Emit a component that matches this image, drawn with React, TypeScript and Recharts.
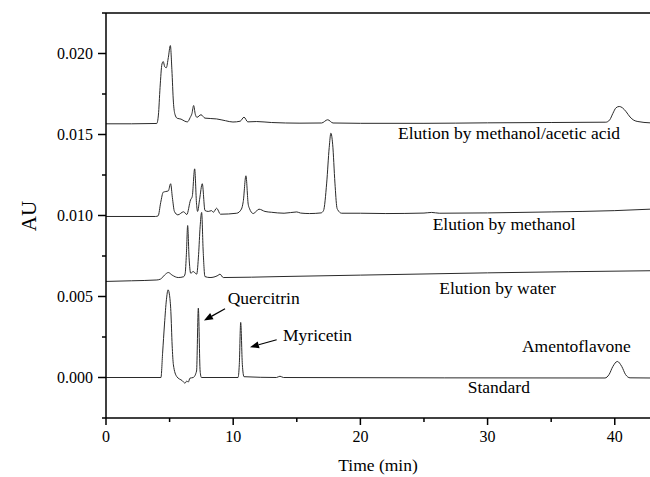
import React from 'react';
import { LineChart, Line, XAxis, YAxis, ReferenceLine, ReferenceDot } from 'recharts';

type Pt = [number, number];

const FONT = "'Liberation Serif', 'Times New Roman', serif";

// axis ticks
const timeTicks = [0, 5, 10, 15, 20, 25, 30, 35, 40];
const timeLabels = [0, 10, 20, 30, 40];
const auTicks = [-0.0025, 0, 0.0025, 0.005, 0.0075, 0.01, 0.0125, 0.015, 0.0175, 0.02, 0.0225];
const auLabels = [0, 0.005, 0.01, 0.015, 0.02];

// chromatograms: [time (min), absorbance (AU)]
const acidTrace: Pt[] = [
  [0, 0.01566], [2.0, 0.01566], [3.99, 0.01568], [4.12, 0.0162], [4.25, 0.0179], [4.4, 0.01935],
  [4.5, 0.0195], [4.62, 0.01918], [4.74, 0.01912], [4.9, 0.01975], [5.06, 0.02049], [5.18, 0.019],
  [5.3, 0.017], [5.42, 0.01625], [5.6, 0.016], [5.9, 0.01595], [6.2, 0.01582], [6.4, 0.01578],
  [6.62, 0.01605], [6.76, 0.0163], [6.89, 0.01679], [7.02, 0.01625], [7.15, 0.01606], [7.47, 0.01622],
  [7.78, 0.01601], [8.7, 0.01596], [9.4, 0.01585], [9.98, 0.01577], [10.55, 0.01582], [10.85, 0.01607],
  [11.15, 0.01578], [11.85, 0.0158], [13.0, 0.01574], [15.25, 0.0157], [16.95, 0.01571], [17.43, 0.01591],
  [17.85, 0.01571], [20.0, 0.01569], [25.0, 0.01569], [30.0, 0.01572], [35.0, 0.01574], [39.3, 0.01576],
  [39.6, 0.0159], [39.85, 0.0163], [40.1, 0.01665], [40.35, 0.01673], [40.6, 0.01665], [40.9, 0.0164],
  [41.2, 0.01608], [41.5, 0.01588], [41.82, 0.0158], [42.77, 0.01572],
];

const methanolTrace: Pt[] = [
  [0, 0.00994], [3.9, 0.00994], [4.1, 0.00998], [4.3, 0.0108], [4.5, 0.01144], [4.7, 0.01148],
  [4.9, 0.01152], [5.08, 0.01196], [5.22, 0.0111], [5.38, 0.01025], [5.65, 0.01004], [6.1, 0.01023],
  [6.35, 0.01006], [6.65, 0.01097], [6.78, 0.01117], [6.97, 0.01288], [7.12, 0.0107], [7.2, 0.01025],
  [7.36, 0.011], [7.57, 0.01196], [7.78, 0.01031], [8.04, 0.01025], [8.3, 0.0103], [8.44, 0.0102],
  [8.7, 0.01045], [9.0, 0.01008], [10.28, 0.01014], [10.65, 0.0104], [10.79, 0.01086], [11.0, 0.01245],
  [11.18, 0.0107], [11.27, 0.01045], [11.58, 0.01012], [12.03, 0.01039], [12.5, 0.01025], [13.0, 0.0102],
  [14.0, 0.01014], [15.0, 0.01022], [15.3, 0.01015], [16.0, 0.01012], [16.9, 0.01016], [17.1, 0.0103],
  [17.35, 0.012], [17.55, 0.0142], [17.68, 0.01508], [17.82, 0.0144], [18.0, 0.012], [18.15, 0.0105],
  [18.22, 0.01035], [18.53, 0.01014], [20.0, 0.01014], [22.0, 0.01012], [25.0, 0.01015], [25.6, 0.01019],
  [26.2, 0.01014], [30.0, 0.01016], [35.0, 0.01022], [40.0, 0.0103], [42.77, 0.01039],
];

const waterTrace: Pt[] = [
  [0, 0.00593], [2.0, 0.00597], [4.0, 0.00602], [4.3, 0.00608], [4.6, 0.00632], [4.9, 0.00648],
  [5.2, 0.00632], [5.68, 0.00617], [6.1, 0.00622], [6.22, 0.0064], [6.32, 0.0076], [6.42, 0.00938],
  [6.53, 0.0074], [6.66, 0.00644], [6.86, 0.00654], [7.13, 0.00638], [7.28, 0.0076], [7.4, 0.0093],
  [7.52, 0.01019], [7.64, 0.0078], [7.78, 0.00623], [8.18, 0.00617], [8.8, 0.0063], [8.96, 0.00638],
  [9.22, 0.00617], [13.68, 0.00623], [20.0, 0.00632], [30.0, 0.00646], [42.77, 0.00659],
];

const standardTrace: Pt[] = [
  [0, 0], [4.32, 0], [4.45, 0.0015], [4.6, 0.0033], [4.75, 0.0048], [4.88, 0.00541], [5.0, 0.00505],
  [5.1, 0.00407], [5.2, 0.002], [5.3, 0.00078], [5.56, 0.00006], [6.0, -0.0002], [6.21, -0.00035],
  [6.35, -0.00022], [6.47, -0.00028], [6.6, -0.00004], [6.86, 0], [7.12, 0.0004], [7.26, 0.00428],
  [7.4, 0.0004], [7.5, 0], [10.38, 0], [10.48, 0.0008], [10.59, 0.0034], [10.72, 0.0008], [10.85, 0.00005],
  [13.4, 0], [13.68, 0.00008], [13.95, 0], [39.23, -0.00003], [39.55, 0.00018], [39.85, 0.00068],
  [40.2, 0.00099], [40.55, 0.00068], [40.85, 0.00018], [41.2, -0.00002], [42.77, -0.00003],
];

const traces = [acidTrace, methanolTrace, waterTrace, standardTrace];

const notes = [
  { text: 'Elution by methanol/acetic acid', t: 22.96, au: 0.01472 },
  { text: 'Elution by methanol', t: 25.68, au: 0.0091 },
  { text: 'Elution by water', t: 26.2, au: 0.00515 },
  { text: 'Standard', t: 28.44, au: -0.00093 },
  { text: 'Amentoflavone', t: 32.7, au: 0.00157 },
  { text: 'Myricetin', t: 13.92, au: 0.00225 },
  { text: 'Quercitrin', t: 9.57, au: 0.00454 },
];

const arrows = [
  { from: [9.36, 0.00424], to: [7.7, 0.00352] },
  { from: [13.42, 0.00233], to: [11.32, 0.00187] },
];

const XTick = (props: any) => {
  const { x, y, payload } = props;
  const major = timeLabels.includes(payload.value);
  return (
    <g>
      <line x1={x} x2={x} y1={y} y2={y + (major ? 7 : 4)} stroke="#000" strokeWidth={1.5} />
      {major && (
        <text x={x} y={y + 24} textAnchor="middle" fontSize={16} fontFamily={FONT} fill="#000">
          {payload.value}
        </text>
      )}
    </g>
  );
};

const YTick = (props: any) => {
  const { x, y, payload } = props;
  const major = auLabels.some((l) => Math.abs(l - payload.value) < 1e-9);
  return (
    <g>
      <line x1={x - (major ? 8 : 4)} x2={x} y1={y} y2={y} stroke="#000" strokeWidth={1.5} />
      {major && (
        <text x={x - 13} y={y} dy="0.35em" textAnchor="end" fontSize={16} fontFamily={FONT} fill="#000">
          {payload.value.toFixed(3)}
        </text>
      )}
    </g>
  );
};

const ArrowShape = (p: any) => {
  const { x1, y1, x2, y2 } = p;
  const ang = Math.atan2(y2 - y1, x2 - x1);
  const len = 9;
  const half = 3.5;
  const bx = x2 - len * Math.cos(ang);
  const by = y2 - len * Math.sin(ang);
  const px = -Math.sin(ang) * half;
  const py = Math.cos(ang) * half;
  return (
    <g>
      <line x1={x1} y1={y1} x2={bx} y2={by} stroke="#000" strokeWidth={1.2} />
      <polygon points={`${x2},${y2} ${bx + px},${by + py} ${bx - px},${by - py}`} fill="#000" />
    </g>
  );
};

export default function App() {
  return (
    <div style={{ position: 'absolute', left: 0, top: 0, width: 650, height: 477, background: '#fff' }}>
      <LineChart width={650} height={477} margin={{ top: 13, right: 0, bottom: 0, left: 0 }}>
        <XAxis
          dataKey="t"
          type="number"
          domain={[0, 42.77]}
          ticks={timeTicks}
          interval={0}
          height={59}
          tickSize={0}
          tickMargin={0}
          tick={<XTick />}
          axisLine={{ stroke: '#000', strokeWidth: 1.5 }}
          allowDuplicatedCategory={false}
          label={{
            content: () => (
              <text x={378} y={471} textAnchor="middle" fontSize={17.5} fontFamily={FONT} fill="#000">
                Time (min)
              </text>
            ),
          }}
        />
        <YAxis
          type="number"
          domain={[-0.0025, 0.0225]}
          ticks={auTicks}
          interval={0}
          width={106}
          tickSize={0}
          tickMargin={0}
          tick={<YTick />}
          axisLine={{ stroke: '#000', strokeWidth: 1.5 }}
          label={{
            content: () => (
              <text
                x={29}
                y={216}
                transform="rotate(-90 29 216)"
                textAnchor="middle"
                dy="0.35em"
                fontSize={21}
                fontFamily={FONT}
                fill="#000"
              >
                AU
              </text>
            ),
          }}
        />
        <ReferenceLine y={0.0225} stroke="#000" strokeWidth={1.5} />
        {traces.map((tr, i) => (
          <Line
            key={i}
            data={tr.map(([t, v]) => ({ t, v }))}
            dataKey="v"
            type="monotone"
            stroke="#2a2a2a"
            strokeWidth={1}
            dot={false}
            activeDot={false}
            isAnimationActive={false}
          />
        ))}
        {arrows.map((a, i) => (
          <ReferenceLine
            key={'a' + i}
            segment={[
              { x: a.from[0], y: a.from[1] },
              { x: a.to[0], y: a.to[1] },
            ]}
            shape={ArrowShape}
          />
        ))}
        {notes.map((n) => (
          <ReferenceDot
            key={n.text}
            x={n.t}
            y={n.au}
            r={0}
            shape={(p: any) => (
              <text x={p.cx} y={p.cy} fontSize={17.5} fontFamily={FONT} fill="#000">
                {n.text}
              </text>
            )}
          />
        ))}
      </LineChart>
    </div>
  );
}
